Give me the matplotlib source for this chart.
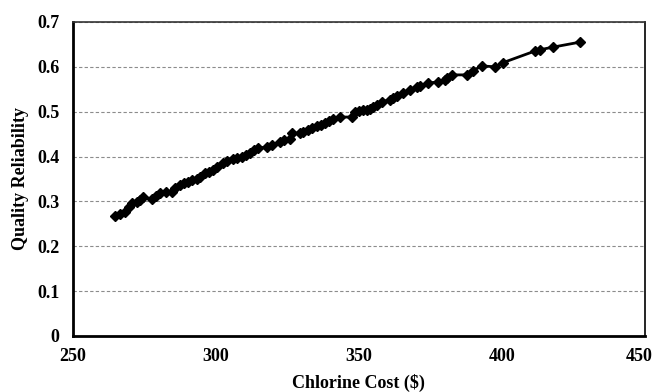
import numpy as np
import matplotlib
matplotlib.use("Agg")
import matplotlib.pyplot as plt
from matplotlib.transforms import ScaledTranslation

# data (chlorine cost vs quality reliability)
cost = [264.7, 266.5, 268.2, 269.5, 270.6, 272.4, 273.5, 274.5, 277.6, 279.0,
        280.4, 282.5, 284.6, 285.7, 287.4, 288.8, 290.2, 291.8, 293.4, 294.4,
        296.2, 297.5, 299.0, 300.5, 302.4, 304.0, 306.0, 307.5, 309.0, 310.5,
        311.9, 313.5, 314.7, 317.8, 319.6, 322.4, 324.0, 325.9, 326.6, 329.4,
        330.5, 332.2, 333.8, 335.3, 336.8, 338.1, 339.5, 341.0, 343.4, 347.6,
        348.6, 350.0, 351.4, 352.8, 353.8, 355.0, 356.3, 358.0, 360.8, 362.0,
        363.3, 365.4, 367.8, 370.3, 371.5, 374.1, 377.6, 380.0, 381.0, 382.5,
        387.8, 389.9, 393.0, 397.6, 400.3, 411.5, 413.3, 418.0, 427.3]
reliability = [0.268, 0.272, 0.277, 0.287, 0.296, 0.299, 0.304, 0.310, 0.305, 0.312,
               0.318, 0.320, 0.321, 0.330, 0.336, 0.340, 0.343, 0.347, 0.350, 0.354,
               0.363, 0.366, 0.370, 0.377, 0.385, 0.389, 0.394, 0.397, 0.399, 0.404,
               0.408, 0.414, 0.419, 0.421, 0.426, 0.432, 0.436, 0.440, 0.452, 0.452,
               0.455, 0.459, 0.464, 0.468, 0.470, 0.475, 0.479, 0.484, 0.488, 0.488,
               0.499, 0.501, 0.504, 0.504, 0.506, 0.510, 0.515, 0.522, 0.526, 0.530,
               0.535, 0.541, 0.548, 0.555, 0.557, 0.564, 0.566, 0.571, 0.574, 0.582,
               0.582, 0.591, 0.602, 0.600, 0.609, 0.635, 0.638, 0.644, 0.655]
xticks = [250, 300, 350, 400, 450]
yticks = [0, 0.1, 0.2, 0.3, 0.4, 0.5, 0.6, 0.7]
ytick_labels = ["0", "0.1", "0.2", "0.3", "0.4", "0.5", "0.6", "0.7"]

plt.rcParams["font.family"] = ["Liberation Serif", "DejaVu Serif"]
plt.rcParams["font.weight"] = "bold"

fig = plt.figure(figsize=(6.56, 3.92), dpi=100)
ax = fig.add_axes([0.111, 0.143, 0.872, 0.801])

ax.plot(cost, reliability, "-D", color="black", lw=2, ms=5.5, zorder=3)

ax.set_xlim(250, 450)
ax.set_ylim(0, 0.7)
ax.set_xticks(xticks)
ax.set_yticks(yticks)
ax.set_yticklabels(ytick_labels)
ax.tick_params(length=0, labelsize=13)
ax.tick_params(axis="x", pad=9)
ax.tick_params(axis="y", pad=9.5)
for lab in ax.get_xticklabels() + ax.get_yticklabels():
    lab.set_fontweight("bold")

# last x label sits right on the figure edge; nudge it in a little
last = ax.get_xticklabels()[-1]
last.set_transform(last.get_transform() + ScaledTranslation(-4 / 72, 0, fig.dpi_scale_trans))

ax.grid(axis="y", color="#8c8c8c", ls=(0, (3, 2)), lw=0.8)
ax.set_axisbelow(True)

ax.spines["left"].set_linewidth(2)
ax.spines["bottom"].set_linewidth(2)
ax.spines["right"].set_linewidth(1.2)
ax.spines["top"].set_linewidth(1.2)
ax.spines["top"].set_color("#333333")

ax.set_xlabel("Chlorine Cost ($)", fontsize=13, fontweight="bold", labelpad=6)
ax.set_ylabel("Quality Reliability", fontsize=13, fontweight="bold", labelpad=6)

fig.savefig("out.png", dpi=100)
